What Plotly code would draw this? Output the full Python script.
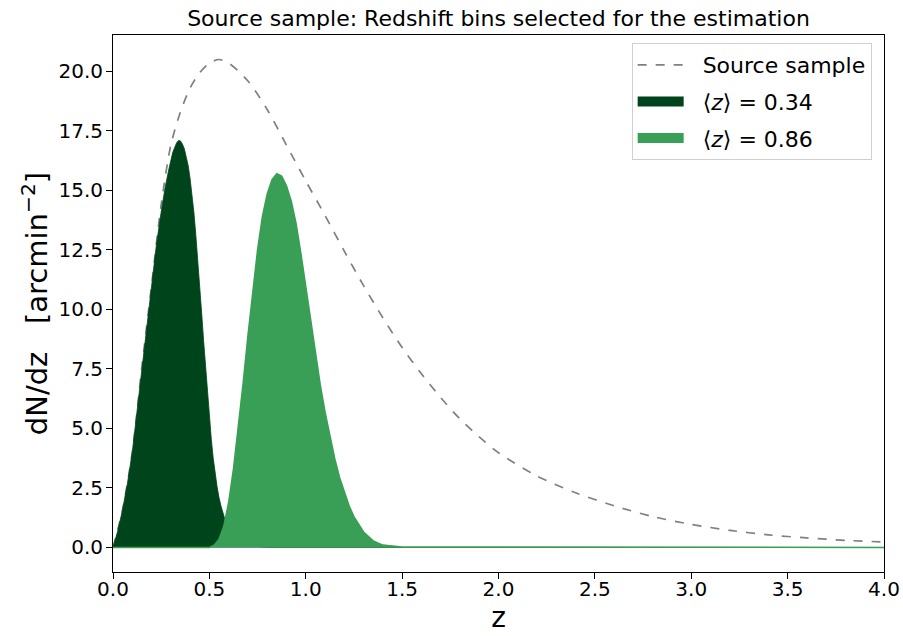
import plotly.graph_objects as go

# Source sample dN/dz
z_src = [0.0, 0.05, 0.1, 0.15, 0.2, 0.25, 0.3, 0.35, 0.4, 0.45, 0.5, 0.55, 0.6, 0.7, 0.8, 0.9,
         1.0, 1.1, 1.2, 1.3, 1.4, 1.5, 1.6, 1.7, 1.8, 1.9, 2.0, 2.2, 2.4, 2.6, 2.8, 3.0, 3.2,
         3.4, 3.6, 3.8, 4.0]
n_src = [0.0, 1.6, 4.0, 7.6, 11.0, 14.4, 16.9, 18.3, 19.3, 19.95, 20.35, 20.5, 20.35, 19.6, 18.4, 16.9,
         15.4, 13.95, 12.45, 11.0, 9.65, 8.4, 7.3, 6.3, 5.4, 4.65, 3.98, 3.0, 2.3, 1.75, 1.3, 0.97, 0.72,
         0.53, 0.40, 0.30, 0.23]

# Bin 1: <z> = 0.34
z_b1 = [0.0, 0.025, 0.05, 0.075, 0.1, 0.125, 0.15, 0.175, 0.2, 0.225, 0.25, 0.27, 0.29, 0.31, 0.33,
        0.34, 0.35, 0.36, 0.37, 0.38, 0.39, 0.40, 0.41, 0.42, 0.43, 0.44, 0.45, 0.46, 0.47, 0.48,
        0.49, 0.50, 0.51, 0.52, 0.53, 0.54, 0.55, 0.56, 0.58, 0.60, 0.65, 0.70, 0.80, 4.0]
n_b1 = [0.0, 0.7, 1.6, 2.7, 4.0, 5.7, 7.6, 9.3, 11.0, 12.7, 14.1, 15.1, 15.9, 16.6, 17.0,
        17.1, 17.08, 16.95, 16.75, 16.45, 16.05, 15.5, 14.85, 14.05, 13.1, 12.1, 11.0, 9.85, 8.7, 7.55,
        6.45, 5.45, 4.55, 3.75, 3.1, 2.55, 2.1, 1.75, 1.2, 0.8, 0.3, 0.1, 0.0, 0.0]

# Bin 2: <z> = 0.86
z_b2 = [0.0, 0.5, 0.525, 0.55, 0.575, 0.6, 0.625, 0.65, 0.675, 0.7, 0.725, 0.75, 0.775, 0.8, 0.825,
        0.85, 0.875, 0.9, 0.925, 0.95, 0.975, 1.0, 1.025, 1.05, 1.075, 1.1, 1.125, 1.15, 1.175,
        1.2, 1.225, 1.25, 1.275, 1.3, 1.35, 1.4, 1.5, 4.0]
n_b2 = [0.0, 0.0, 0.1, 0.35, 0.9, 1.9, 3.3, 5.0, 6.9, 8.9, 10.8, 12.5, 13.9, 14.85, 15.45,
        15.7, 15.6, 15.2, 14.55, 13.6, 12.35, 10.95, 9.5, 8.1, 6.85, 5.7, 4.65, 3.75, 2.95,
        2.3, 1.75, 1.3, 0.95, 0.65, 0.28, 0.1, 0.02, 0.0]

x_ticks = [0.0, 0.5, 1.0, 1.5, 2.0, 2.5, 3.0, 3.5, 4.0]
y_ticks = [0.0, 2.5, 5.0, 7.5, 10.0, 12.5, 15.0, 17.5, 20.0]

FONT = "DejaVu Sans"
DARK = "#00441b"
MID = "#3a9f56"
PAD = "\u00a0\u00a0"

fig = go.Figure()
fig.add_trace(go.Scatter(x=z_src, y=n_src, mode="lines", name=PAD + "Source sample",
                         legendgroup="a", showlegend=True,
                         line=dict(color="#808080", width=1.7, dash="dash", shape="spline", smoothing=0.8)))
fig.add_trace(go.Scatter(x=z_b1, y=n_b1, mode="lines", showlegend=False,
                         fill="tozeroy", fillcolor=DARK,
                         line=dict(color=DARK, width=0.8)))
fig.add_trace(go.Scatter(x=z_b2, y=n_b2, mode="lines", showlegend=False,
                         fill="tozeroy", fillcolor=MID,
                         line=dict(color=MID, width=1.5)))
# legend entries (patches)
fig.add_trace(go.Scatter(x=[None], y=[None], mode="lines", name=PAD + "⟨<i>z</i>⟩ = 0.34",
                         legendgroup="b", line=dict(color=DARK, width=16)))
fig.add_trace(go.Scatter(x=[None], y=[None], mode="lines", name=PAD + "⟨<i>z</i>⟩ = 0.86",
                         legendgroup="c", line=dict(color=MID, width=16)))

fig.update_layout(
    width=903, height=636,
    margin=dict(l=113, r=19, t=35, b=64),
    paper_bgcolor="white", plot_bgcolor="white",
    font=dict(family=FONT, color="black", size=20),
    title=dict(text="Source sample: Redshift bins selected for the estimation",
               x=(113 + 884) / 2 / 903, xanchor="center", y=1 - 18 / 636, yanchor="middle",
               font=dict(size=22, family=FONT)),
    showlegend=True,
    legend=dict(x=0.984, y=0.985, xanchor="right", yanchor="top", traceorder="grouped",
                bgcolor="rgba(255,255,255,0.8)", bordercolor="#d0d0d0", borderwidth=1,
                font=dict(size=22, family=FONT), itemwidth=46, tracegroupgap=5),
)
fig.update_xaxes(range=[0, 4], tickvals=x_ticks, ticktext=[f"{v:.1f}" for v in x_ticks],
                 showgrid=False, zeroline=False, showline=True, linecolor="black", linewidth=1,
                 mirror=True, ticks="outside", ticklen=6, tickcolor="black",
                 tickfont=dict(size=20), automargin=False, ticklabelstandoff=-7,
                 title=dict(text="z", font=dict(size=28), standoff=6))
fig.update_yaxes(range=[-1.03, 21.53], tickvals=y_ticks, ticktext=[f"{v:.1f}" for v in y_ticks],
                 showgrid=False, zeroline=False, showline=True, linecolor="black", linewidth=1,
                 mirror=True, ticks="outside", ticklen=6, tickcolor="black",
                 tickfont=dict(size=20), automargin=False, ticklabelstandoff=-1,
                 title=dict(text="dN/dz\u00a0\u00a0\u00a0[arcmin<sup>\u22122</sup>]", font=dict(size=29), standoff=2))

fig.write_html("out.html")
